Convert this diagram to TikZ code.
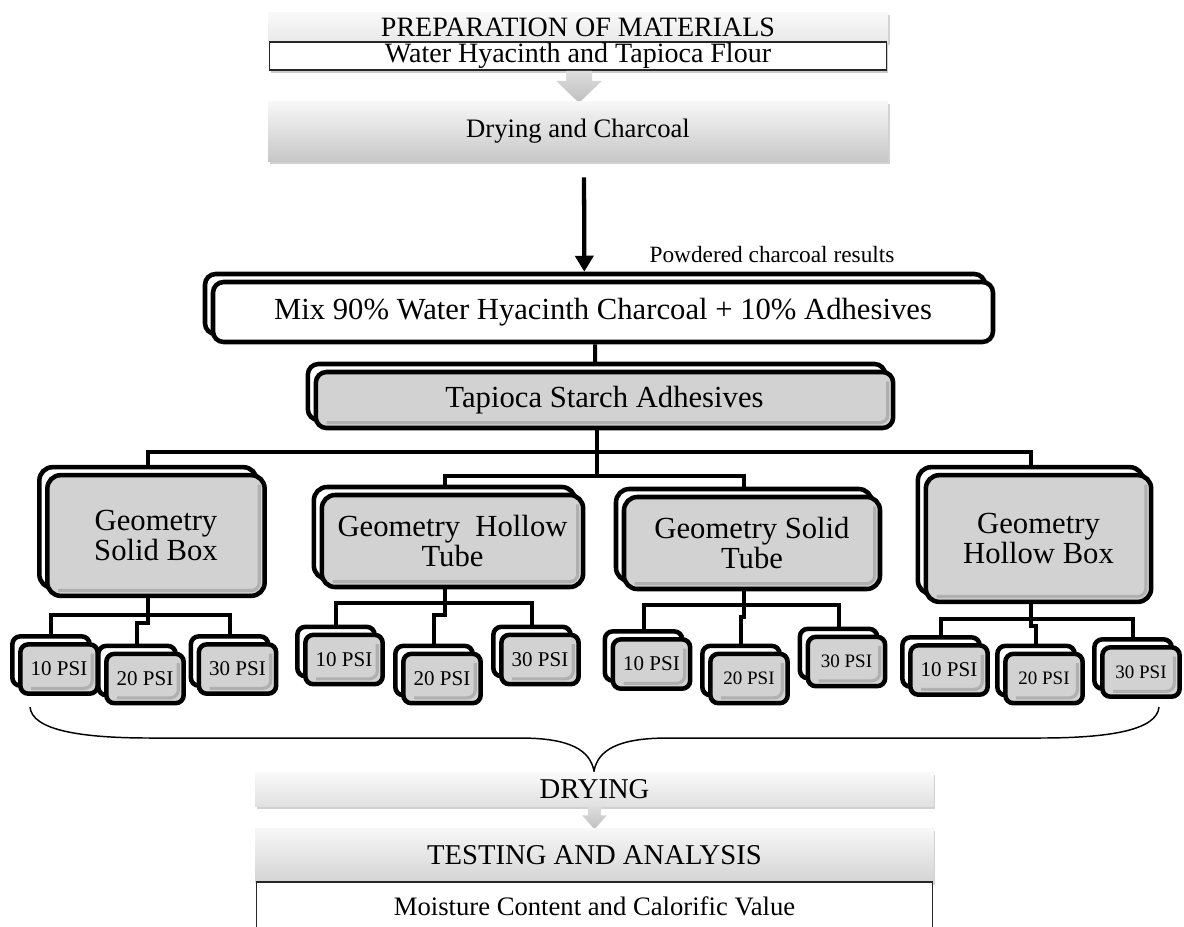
\documentclass[tikz,border=0pt]{standalone}
\usepackage{fontspec}
\setmainfont{Liberation Serif}
\usetikzlibrary{shadows,backgrounds,arrows.meta}

\definecolor{boxgray}{HTML}{D2D2D2}
\definecolor{shadeline}{HTML}{B0B0B0}

\tikzset{
  topbar/.style={minimum width=465pt, inner sep=0pt,
    font=\fontsize{20}{20}\selectfont,
    drop shadow={shadow xshift=1.2pt, shadow yshift=-2pt, fill=black, opacity=.18}},
  linebar/.style={draw=black!85, line width=1.2pt, fill=white, minimum width=463pt,
    inner sep=0pt, font=\fontsize{20}{20}\selectfont},
  chevron/.style={top color=black!13, bottom color=black!25},
  backcopy/.style={copy shadow={shadow xshift=-6pt, shadow yshift=6pt,
    fill=white, draw=black, line width=3.4pt}},
  innershade/.style={path picture={
    \draw[line width=2.4pt, draw=shadeline, rounded corners=6pt]
      ([xshift=-4pt,yshift=-7pt]path picture bounding box.north east)
      -- ([xshift=-4pt,yshift=4pt]path picture bounding box.south east)
      -- ([xshift=8pt,yshift=4pt]path picture bounding box.south west);}},
  mixbox/.style={draw, line width=3.4pt, rounded corners=8pt, fill=white,
    inner sep=0pt, font=\fontsize{23}{23}\selectfont, backcopy},
  geobox/.style={draw, line width=3.4pt, rounded corners=10pt, fill=boxgray,
    inner sep=0pt, align=center, font=\fontsize{23}{22.5}\selectfont,
    backcopy, innershade},
  psibox/.style={geobox, rounded corners=6pt, minimum width=58pt, minimum height=37pt,
    font=\fontsize{15.75}{16}\selectfont},
  psismall/.style={psibox, font=\fontsize{14.25}{15}\selectfont},
  link/.style={line width=3pt},
  bigarrow/.style={line width=3.2pt, -{Triangle[width=13.5pt,length=12pt]}},
  bracket/.style={line width=1.1pt}
}

\begin{document}
\begin{tikzpicture}[x=0.75pt,y=-0.75pt]
\useasboundingbox (0,0) rectangle (1184,926);

% materials and charcoal
\node[topbar, top color=black!2, bottom color=black!9, minimum height=22.5pt, font=\fontsize{21}{21}\selectfont] (prep) at (578,27) {PREPARATION OF MATERIALS};
\node[linebar, minimum height=21pt, font=\fontsize{21}{21}\selectfont, drop shadow={shadow xshift=1.2pt, shadow yshift=-2.5pt, fill=black, opacity=.2}] (water) at (578,56) {Water Hyacinth and Tapioca Flour};
\shade[chevron] ([xshift=-9pt]water.south) -- ++(26,0) -- ++(0,10) -- ++(10,0) -- ++(-23,22) -- ++(-23,-22) -- ++(10,0) -- cycle;
\node[topbar, top color=black!3, bottom color=black!22, minimum height=45pt] (dry) at (578,131) {Drying and Charcoal};

\node[font=\fontsize{17.5}{18}\selectfont] (powder) at (772,255) {Powdered charcoal results};

% mixing
\node[mixbox, minimum width=585pt, minimum height=45pt] (mix) at (603,312) {Mix 90\% Water Hyacinth Charcoal + 10\% Adhesives};
\node[geobox, rounded corners=8pt, minimum width=433pt, minimum height=42pt] (tap) at (604.5,400) {Tapioca Starch Adhesives};

\draw[bigarrow, shorten <=12pt, shorten >=6pt] ([xshift=4.5pt]dry.south) -- ([xshift=-14pt]mix.north);

% geometries
\node[geobox, minimum width=163pt, minimum height=90.5pt] (gsb) at (156,535.5) {Geometry\\Solid Box};
\node[geobox, minimum width=196pt, minimum height=69pt] (ght) at (452.5,541) {Geometry\ \ Hollow\\Tube};
\node[geobox, minimum width=192pt, minimum height=69pt] (gst) at (752,543) {Geometry Solid\\Tube};
\node[geobox, minimum width=169pt, minimum height=95pt] (ghb) at (1038.5,538.5) {Geometry\\Hollow Box};

% pressures
\node[psibox] (p11) at (59,669) {10 PSI};
\node[psibox] (p12) at (145,678.5) {20 PSI};
\node[psibox] (p13) at (237.5,669) {30 PSI};
\node[psibox] (p21) at (344,659.5) {10 PSI};
\node[psibox] (p22) at (442,678.5) {20 PSI};
\node[psibox] (p23) at (540,659.5) {30 PSI};
\node[psibox] (p31) at (651.5,664) {10 PSI};
\node[psismall] (p32) at (749,678.5) {20 PSI};
\node[psismall] (p33) at (846.5,661.5) {30 PSI};
\node[psibox] (p41) at (949,670) {10 PSI};
\node[psismall] (p42) at (1044,678.5) {20 PSI};
\node[psismall] (p43) at (1141,672) {30 PSI};

% tree lines
\begin{scope}[on background layer]
\draw[link] ([xshift=-6pt]mix.south) -- ([xshift=-7.1pt]tap.north);
\draw[link] ([xshift=-6pt]tap.south) -- ++(0,22) -| ([xshift=-6pt]gsb.north);
\draw[link] ([xshift=-6pt]tap.south) -- ++(0,22) -| ([xshift=-6pt]ghb.north);
\draw[link] ([xshift=-6pt]tap.south) -- ++(0,46) -| ([xshift=-6pt]ght.north);
\draw[link] ([xshift=-6pt]tap.south) -- ++(0,46) -| ([xshift=-6pt]gst.north);

\draw[link] ([xshift=-6pt]gsb.south) -- ++(0,17) -| ([xshift=-6pt]p11.north);
\draw[link] ([xshift=-6pt]gsb.south) -- ++(0,17) -| ([xshift=-6pt]p13.north);
\draw[link] ([xshift=-6pt]gsb.south) -- ++(0,25) -| ([xshift=-6pt]p12.north);
\draw[link] ([xshift=-6pt]ght.south) -- ++(0,14) -| ([xshift=-6pt]p21.north);
\draw[link] ([xshift=-6pt]ght.south) -- ++(0,14) -| ([xshift=-6pt]p23.north);
\draw[link] ([xshift=-6pt]ght.south) -- ++(0,26) -| ([xshift=-6pt]p22.north);
\draw[link] ([xshift=-6pt]gst.south) -- ++(0,14) -| ([xshift=-6pt]p31.north);
\draw[link] ([xshift=-6pt]gst.south) -- ++(0,14) -| ([xshift=-6pt]p33.north);
\draw[link] ([xshift=-6pt]gst.south) -- ++(0,26) -| ([xshift=-6pt]p32.north);
\draw[link] ([xshift=-6pt]ghb.south) -- ++(0,15) -| ([xshift=-6pt]p41.north);
\draw[link] ([xshift=-6pt]ghb.south) -- ++(0,15) -| ([xshift=-6pt]p43.north);
\draw[link] ([xshift=-6pt]ghb.south) -- ++(0,22) -| ([xshift=-6pt]p42.north);
\end{scope}

% brace
\draw[bracket] (30,707) .. controls (32,730) and (80,738) .. (150,738) -- (520,738)
  .. controls (570,738) and (590,750) .. (594,771)
  .. controls (598,750) and (618,738) .. (668,738) -- (1040,738)
  .. controls (1110,738) and (1157,730) .. (1159,707);

% drying and testing
\node[topbar, top color=black!2, bottom color=black!12, minimum width=509pt, minimum height=25.5pt, font=\fontsize{21.5}{21.5}\selectfont] (dry2) at (594.5,789) {DRYING};
\shade[chevron] ([xshift=-4.9pt]dry2.south) -- ++(13,0) -- ++(0,9) -- ++(6,0) -- ++(-12.5,14) -- ++(-12.5,-14) -- ++(6,0) -- cycle;
\node[topbar, top color=black!3, bottom color=black!17, minimum width=509pt, minimum height=40.5pt, font=\fontsize{21.5}{21.5}\selectfont] (test) at (594.5,855) {TESTING AND ANALYSIS};
\node[linebar, minimum width=507pt, minimum height=36pt] (moist) at (594.5,906) {Moisture Content and Calorific Value};
\end{tikzpicture}
\end{document}
